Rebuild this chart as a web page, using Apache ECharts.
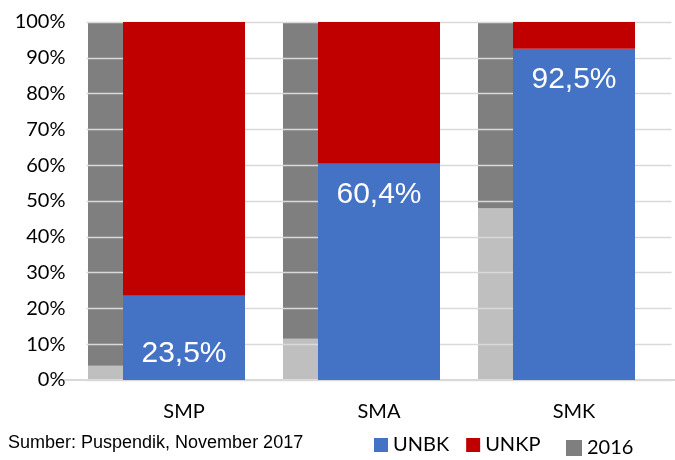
<!DOCTYPE html>
<html>
<head>
<meta charset="utf-8">
<script src="https://cdn.jsdelivr.net/npm/echarts@6/dist/echarts.min.js"></script>
<style>html,body{margin:0;padding:0;background:#fff;}#c{width:675px;height:460px;}</style>
</head>
<body>
<div id="c"></div>
<script>
var categories = ['SMP', 'SMA', 'SMK'];
var unbk = [23.5, 60.4, 92.5];
var unkp = [76.5, 39.6, 7.5];
var unbk2016 = [4, 11.5, 48];
var unkp2016 = [96, 88.5, 52];
var yTicks = [0, 10, 20, 30, 40, 50, 60, 70, 80, 90, 100];
var sourceText = 'Sumber: Puspendik, November 2017';

var chart = echarts.init(document.getElementById('c'));
var fmt = function (v) { return v.toFixed(1).replace('.', ',') + '%'; };

var unbkData = unbk.map(function (v, i) {
  var item = { value: v };
  if (i === 0) { item.label = { position: 'insideBottom', distance: 11 }; }
  return item;
});

chart.setOption({
  animation: false,
  backgroundColor: '#fff',
  title: {
    text: sourceText, left: 3, top: 429,
    textStyle: { fontFamily: 'Liberation Sans', fontSize: 18, fontWeight: 'normal', color: '#000' }
  },
  legend: [{
    data: ['UNBK', 'UNKP'], left: 369, top: 430, itemWidth: 14, itemHeight: 14, itemGap: 17,
    icon: 'rect',
    textStyle: { fontFamily: 'Lato', fontSize: 20, color: '#000' }
  }, {
    data: ['2016'], left: 561, top: 433, itemWidth: 16, itemHeight: 16,
    icon: 'rect',
    textStyle: { fontFamily: 'Lato', fontSize: 20, color: '#000' }
  }],
  grid: [
    { left: 86.5, right: 3.5, top: 22, bottom: 80 },
    { left: 8, right: 82, top: 22, bottom: 80 },
    { left: 65, right: 0, top: 22, bottom: 80 }
  ],
  xAxis: [
    { type: 'category', gridIndex: 0, data: categories,
      axisLine: { show: false }, axisTick: { show: false },
      axisLabel: { margin: 22, fontFamily: 'Lato', fontSize: 20, color: '#000' } },
    { type: 'category', gridIndex: 1, data: categories, show: false },
    { type: 'value', gridIndex: 2, min: 0, max: 1,
      axisLine: { show: true, lineStyle: { color: '#d9d9d9', width: 2 } },
      axisTick: { show: false }, axisLabel: { show: false }, splitLine: { show: false } }
  ],
  yAxis: [
    { type: 'value', gridIndex: 0, min: yTicks[0], max: yTicks[yTicks.length - 1], interval: 10,
      axisLine: { show: false }, axisTick: { show: false },
      splitLine: { lineStyle: { color: '#d9d9d9', width: 1.3 } },
      axisLabel: { formatter: '{value}%', margin: 21, fontFamily: 'Lato', fontSize: 20, color: '#000' } },
    { type: 'value', gridIndex: 1, min: 0, max: 100, show: false },
    { type: 'value', gridIndex: 2, min: 0, max: 100, show: false }
  ],
  series: [
    { name: '2016 UNBK', type: 'bar', xAxisIndex: 1, yAxisIndex: 1, stack: 'g', barWidth: 35,
      z: -1, itemStyle: { color: '#bfbfbf' }, data: unbk2016 },
    { name: '2016', type: 'bar', xAxisIndex: 1, yAxisIndex: 1, stack: 'g', barWidth: 35,
      z: -1, itemStyle: { color: '#7f7f7f' }, data: unkp2016 },
    { name: 'UNBK', type: 'bar', xAxisIndex: 0, yAxisIndex: 0, stack: 's', barWidth: 122,
      itemStyle: { color: '#4472c4' },
      label: { show: true, position: 'insideTop', distance: 16, color: '#fff',
        fontFamily: 'Liberation Sans', fontSize: 30,
        formatter: function (p) { return fmt(p.value); } },
      data: unbkData },
    { name: 'UNKP', type: 'bar', xAxisIndex: 0, yAxisIndex: 0, stack: 's', barWidth: 122,
      itemStyle: { color: '#c00000' }, data: unkp }
  ]
});
</script>
</body>
</html>
